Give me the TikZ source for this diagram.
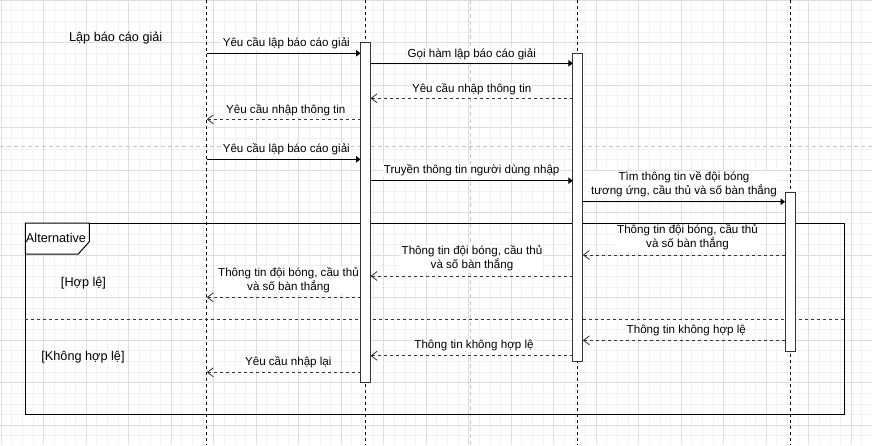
\documentclass[tikz,border=0pt]{standalone}
\usepackage{fontspec}
\setmainfont{Liberation Sans}
\usetikzlibrary{arrows.meta}
\definecolor{gridminor}{HTML}{F2F2F2}
\definecolor{gridmajor}{HTML}{DEDEDE}
\definecolor{pagebrk}{HTML}{C4C4C4}
\definecolor{lineclr}{HTML}{333333}
\begin{document}
\begin{tikzpicture}[x=1pt,y=-1pt,
 gminor/.style={draw=gridminor, line width=0.8pt},
 gmajor/.style={draw=gridmajor, line width=0.8pt},
 pagebreak/.style={draw=pagebrk, line width=0.9pt, dash pattern=on 4pt off 3pt},
 lifeline/.style={draw=black, line width=0.9pt, dash pattern=on 3pt off 3pt},
 actbox/.style={draw=lineclr, fill=white, line width=0.9pt, minimum width=10pt, inner sep=0pt, anchor=north},
 callmsg/.style={draw=black, line width=0.9pt, -{Triangle[length=4.5pt,width=6.5pt]}},
 retmsg/.style={draw=lineclr, line width=0.9pt, dash pattern=on 3pt off 3pt, -{Straight Barb[length=6pt,width=9pt,line width=0.8pt]}},
 divider/.style={draw=lineclr, line width=0.9pt, dash pattern=on 3pt off 3pt},
 lbl/.style={font=\fontsize{11.6}{14}\selectfont, fill=white, inner sep=1pt, text height=8.5pt, text depth=2.5pt},
 lbltwo/.style={font=\fontsize{11.6}{14}\selectfont, fill=white, inner sep=1pt, align=center},
 bigtxt/.style={font=\fontsize{12.7}{15}\selectfont, inner sep=0pt, text height=9pt, text depth=3pt},
 frame/.style={draw=black, line width=1.1pt, inner sep=0pt, anchor=north west},
]
\useasboundingbox (0,0) rectangle (872,445);
% grid
\fill[white] (0,0) rectangle (872,445);
\foreach \i in {0,...,82} {
  \draw[gminor] ({1.2+\i*10.625},0) -- ({1.2+\i*10.625},445);
}
\foreach \i in {0,...,42} {
  \draw[gminor] (0,{0.2+\i*10.625}) -- (872,{0.2+\i*10.625});
}
\foreach \i in {0,...,20} {
  \draw[gmajor] ({1.2+\i*42.5},0) -- ({1.2+\i*42.5},445);
}
\foreach \i in {0,...,10} {
  \draw[gmajor] (0,{0.2+\i*42.5}) -- (872,{0.2+\i*42.5});
}
% page breaks
\coordinate (pbh1) at (0,146.7);
\coordinate (pbh2) at (872,146.7);
\coordinate (pbv1) at (470.7,0);
\coordinate (pbv2) at (470.7,445);
\draw[pagebreak] (pbh1) -- (pbh2);
\draw[pagebreak] (pbv1) -- (pbv2);

% lifelines
\coordinate (l1t) at (206.7,0);  \coordinate (l1b) at (206.7,445);
\coordinate (l2t) at (365.5,0);  \coordinate (l2b) at (365.5,445);
\coordinate (l3t) at (577.8,0);  \coordinate (l3b) at (577.8,445);
\coordinate (l4t) at (790,0);    \coordinate (l4b) at (790,445);
\draw[lifeline] (l1t) -- (l1b);
\draw[lifeline] (l2t) -- (l2b);
\draw[lifeline] (l3t) -- (l3b);
\draw[lifeline] (l4t) -- (l4b);

% alt frame
\node[frame, minimum width=818.4pt, minimum height=191.3pt] (alt) at (25.3,223) {};
\coordinate (dv1) at (25.3,319.3);
\coordinate (dv2) at (845,319.3);
\draw[divider] (dv1) -- (dv2);
\draw[draw=black, fill=white, line width=1pt] (25.3,223) -- (89.3,223) -- (89.3,241.7) -- (78.3,254) -- (25.3,254) -- cycle;
\node[bigtxt] (altlbl) at (56,239.8) {Alternative};
\node[bigtxt] (g1) at (83.5,283.2) {[Hợp lệ]};
\node[bigtxt] (g2) at (83,357.5) {[Không hợp lệ]};

% activation boxes
\node[actbox, minimum height=340pt] (a2) at (365.5,42.3) {};
\node[actbox, minimum height=307.7pt] (a3) at (577.8,53.3) {};
\node[actbox, minimum height=159pt] (a4) at (790,191.7) {};

% title
\node[bigtxt] (title) at (115.7,38.8) {Lập báo cáo giải};

% message end points
\coordinate (m1a) at (206.7,53.3);  \coordinate (m1b) at (360.5,53.3);
\coordinate (m2a) at (370.5,63.3);  \coordinate (m2b) at (572.8,63.3);
\coordinate (m3a) at (572.8,98.3);  \coordinate (m3b) at (370.5,98.3);
\coordinate (m4a) at (360.5,119.3); \coordinate (m4b) at (206.7,119.3);
\coordinate (m5a) at (206.7,159.3); \coordinate (m5b) at (360.5,159.3);
\coordinate (m6a) at (370.5,180.7); \coordinate (m6b) at (572.8,180.7);
\coordinate (m7a) at (582.8,201.7); \coordinate (m7b) at (785,201.7);
\coordinate (m8a) at (785,255);     \coordinate (m8b) at (582.8,255);
\coordinate (m9a) at (572.8,276);   \coordinate (m9b) at (370.5,276);
\coordinate (m10a) at (360.5,297.3); \coordinate (m10b) at (206.7,297.3);
\coordinate (m11a) at (785,340.3);   \coordinate (m11b) at (582.8,340.3);
\coordinate (m12a) at (572.8,355.7); \coordinate (m12b) at (370.5,355.7);
\coordinate (m13a) at (360.5,372.3); \coordinate (m13b) at (206.7,372.3);

\draw[callmsg] (m1a) -- (m1b);
\draw[callmsg] (m2a) -- (m2b);
\draw[retmsg] (m3a) -- (m3b);
\draw[retmsg] (m4a) -- (m4b);
\draw[callmsg] (m5a) -- (m5b);
\draw[callmsg] (m6a) -- (m6b);
\draw[callmsg] (m7a) -- (m7b);
\draw[retmsg] (m8a) -- (m8b);
\draw[retmsg] (m9a) -- (m9b);
\draw[retmsg] (m10a) -- (m10b);
\draw[retmsg] (m11a) -- (m11b);
\draw[retmsg] (m12a) -- (m12b);
\draw[retmsg] (m13a) -- (m13b);

% labels
\node[lbl] (t1) at (286.3,43.7) {Yêu cầu lập báo cáo giải};
\node[lbl] (t2) at (471.7,54.3) {Gọi hàm lập báo cáo giải};
\node[lbl] (t3) at (471.7,89.3) {Yêu cầu nhập thông tin};
\node[lbl] (t4) at (285.8,110.3) {Yêu cầu nhập thông tin};
\node[lbl] (t5) at (286.3,149.3) {Yêu cầu lập báo cáo giải};
\node[lbl] (t6) at (471.7,170.3) {Truyền thông tin người dùng nhập};
\node[lbltwo] (t7) at (684,184.7) {Tìm thông tin về đội bóng\\tương ứng, cầu thủ và số bàn thắng};
\node[lbltwo] (t8) at (687.5,237.2) {Thông tin đội bóng, cầu thủ\\và số bàn thắng};
\node[lbltwo] (t9) at (472,258.3) {Thông tin đội bóng, cầu thủ\\và số bàn thắng};
\node[lbltwo] (t10) at (288.5,280) {Thông tin đội bóng, cầu thủ\\và số bàn thắng};
\node[lbl] (t11) at (686.3,330.3) {Thông tin không hợp lệ};
\node[lbl] (t12) at (474,345.3) {Thông tin không hợp lệ};
\node[lbl] (t13) at (288.3,362.7) {Yêu cầu nhập lại};
\end{tikzpicture}
\end{document}
